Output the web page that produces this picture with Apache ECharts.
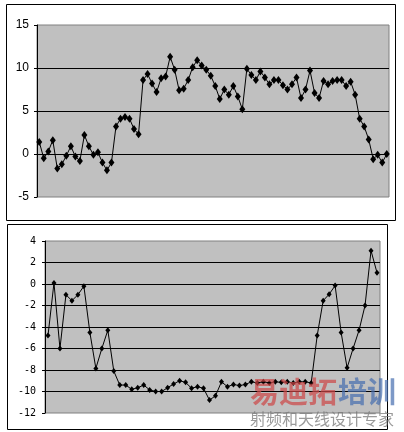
<!DOCTYPE html>
<html>
<head>
<meta charset="utf-8">
<script src="https://cdn.jsdelivr.net/npm/echarts@6/dist/echarts.min.js"></script>
<style>
  html, body { margin: 0; padding: 0; background: #fff; }
  #chart { width: 404px; height: 432px; }
</style>
</head>
<body>
<div id="chart"></div>
<script>
// upper chart: 78 samples
const topValues = [
  1.4, -0.5, 0.3, 1.6, -1.7, -1.2, -0.2, 0.9, -0.3, -0.8,
  2.2, 0.9, -0.1, 0.2, -1.0, -1.9, -1.0, 3.2, 4.1, 4.3,
  4.1, 2.9, 2.3, 8.6, 9.3, 8.2, 7.2, 8.8, 9.0, 11.3,
  9.8, 7.4, 7.6, 8.6, 10.1, 10.9, 10.3, 9.8, 9.1, 7.9,
  6.4, 7.5, 6.9, 7.9, 6.7, 5.2, 9.9, 9.2, 8.6, 9.6,
  8.9, 8.1, 8.6, 8.6, 8.0, 7.5, 8.1, 8.9, 6.5, 7.5,
  9.7, 7.1, 6.5, 8.5, 8.1, 8.5, 8.6, 8.6, 7.9, 8.4,
  6.9, 4.1, 3.2, 1.7, -0.6, -0.1, -1.0, 0.0
]
const topCategories = topValues.map((v, i) => String(i + 1))
const topTicks = { min: -5, max: 15, interval: 5 }

// lower chart: 56 samples
const bottomValues = [
  -4.8, 0.1, -6.0, -1.0, -1.55, -1.0, -0.2, -4.5, -7.85, -6.0,
  -4.3, -8.1, -9.4, -9.4, -9.8, -9.65, -9.4, -9.85, -10.0, -10.0,
  -9.65, -9.3, -9.0, -9.15, -9.7, -9.55, -9.7, -10.8, -10.4, -9.1,
  -9.55, -9.35, -9.45, -9.35, -9.1, -9.2, -9.1, -9.2, -9.1, -9.15,
  -9.1, -9.2, -9.1, -9.1, -9.2, -4.8, -1.55, -0.95, -0.15, -4.5,
  -7.8, -6.0, -4.3, -2.0, 3.1, 1.05
]
const bottomCategories = bottomValues.map((v, i) => String(i + 1))
const bottomTicks = { min: -12, max: 4, interval: 2 }

const chart = echarts.init(document.getElementById('chart'), null, { renderer: 'canvas' })

function valueAxis(gridIndex, ticks, font, size, margin) {
  return {
    type: 'value',
    gridIndex,
    min: ticks.min,
    max: ticks.max,
    interval: ticks.interval,
    axisLine: { show: true, lineStyle: { color: '#000', width: 1 } },
    axisTick: { show: true, inside: false, length: 3, lineStyle: { color: '#000' } },
    axisLabel: { color: '#000', fontFamily: font, fontSize: size, margin },
    splitLine: { show: true, showMinLine: false, showMaxLine: false, lineStyle: { color: '#000', width: 1 } },
  }
}

function catAxis(gridIndex, data) {
  return {
    type: 'category',
    gridIndex,
    data,
    boundaryGap: true,
    axisLine: { show: false },
    axisTick: { show: false },
    axisLabel: { show: false },
    splitLine: { show: false },
  }
}

const option = {
  animation: false,
  backgroundColor: '#fff',
  grid: [
    { left: 37, top: 25, width: 352, height: 172, show: true, backgroundColor: '#c0c0c0', borderColor: '#808080', borderWidth: 1 },
    { left: 45, top: 241, width: 335, height: 172, show: true, backgroundColor: '#c0c0c0', borderColor: '#808080', borderWidth: 1 },
  ],
  xAxis: [catAxis(0, topCategories), catAxis(1, bottomCategories)],
  yAxis: [
    valueAxis(0, topTicks, 'Liberation Sans', 12, 8),
    valueAxis(1, bottomTicks, 'DejaVu Sans Mono', 10, 9),
  ],
  series: [
    {
      type: 'line',
      xAxisIndex: 0,
      yAxisIndex: 0,
      data: topValues,
      symbol: 'diamond',
      symbolSize: [6, 8],
      showAllSymbol: true,
      lineStyle: { color: '#000', width: 1 },
      itemStyle: { color: '#000' },
    },
    {
      type: 'line',
      xAxisIndex: 1,
      yAxisIndex: 1,
      data: bottomValues,
      symbol: 'diamond',
      symbolSize: [5, 6],
      showAllSymbol: true,
      lineStyle: { color: '#000', width: 1 },
      itemStyle: { color: '#000' },
    },
  ],
  graphic: [
    // outer frames of the two charts
    { type: 'rect', z: -1, shape: { x: 6.5, y: 4.5, width: 389, height: 216 }, style: { fill: 'none', stroke: '#000', lineWidth: 1 } },
    { type: 'rect', z: -1, shape: { x: 7.5, y: 224.5, width: 380, height: 205 }, style: { fill: 'none', stroke: '#000', lineWidth: 1 } },
    // watermark
    {
      type: 'text', z: 100, left: 250, top: 377,
      style: { text: '易迪拓', fill: 'rgba(205,70,70,0.7)', font: 'bold 29px "Noto Sans CJK SC"' },
    },
    {
      type: 'text', z: 100, left: 338, top: 377,
      style: { text: '培训', fill: 'rgba(70,110,175,0.7)', font: 'bold 29px "Noto Sans CJK SC"' },
    },
    {
      type: 'text', z: 100, left: 250, top: 411,
      style: { text: '射频和天线设计专家', fill: 'rgba(120,120,120,0.75)', font: '16px "Noto Sans CJK SC"' },
    },
  ],
}

chart.setOption(option)
</script>
</body>
</html>
